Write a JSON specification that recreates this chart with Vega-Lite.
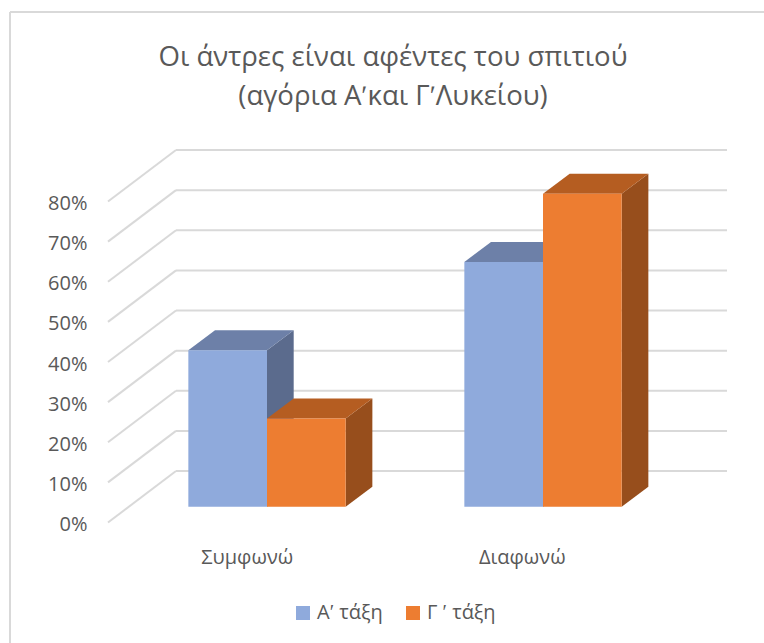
{
"$schema":"https://vega.github.io/schema/vega-lite/v6.json",
"width":754,"height":631,
"autosize":{"type":"none"},
"padding":{"left":10,"top":12,"right":0,"bottom":0},
"background":"white",
"view":{"stroke":null},
"title":{"text":["Οι άντρες είναι αφέντες του σπιτιού","(αγόρια Αʹκαι ΓʹΛυκείου)"],"font":"Open Sans","fontSize":27.6,"fontWeight":"normal","color":"#595959","lineHeight":39,"anchor":"middle","dx":6,"dy":104},
"datasets":{
"bars":[
{"category":"Συμφωνώ","series":"Αʹ τάξη","value":39},
{"category":"Συμφωνώ","series":"Γ ʹ τάξη","value":22},
{"category":"Διαφωνώ","series":"Αʹ τάξη","value":61},
{"category":"Διαφωνώ","series":"Γ ʹ τάξη","value":78}],
"ticks":[{"tick":0},{"tick":10},{"tick":20},{"tick":30},{"tick":40},{"tick":50},{"tick":60},{"tick":70},{"tick":80}]
},
"layer":[
{"data":{"name":"ticks"},
 "transform":[{"calculate":"datum.tick+12.83","as":"backY"},{"calculate":"0.6703","as":"bx0"},{"calculate":"2.6667","as":"bx1"}],
 "mark":{"type":"rule","stroke":"#d9d9d9","strokeWidth":2},
 "encoding":{
  "x":{"field":"bx0","type":"quantitative","scale":{"domain":[0.06884,2.80072],"nice":false,"zero":false},
   "axis":{"values":[0.9265,1.923],"labelExpr":"datum.value<1.5?'Συμφωνώ':'Διαφωνώ'","orient":"bottom","offset":-96,"domain":false,"ticks":false,"grid":false,"title":null,"labelFont":"Open Sans","labelFontSize":20,"labelColor":"#595959","labelPadding":0,"labelOverlap":false,"labelBound":false,"labelFlush":false}},
  "x2":{"field":"bx1"},
  "y":{"field":"backY","type":"quantitative","scale":{"domain":[-30.03,127.23],"nice":false,"zero":false},
   "axis":{"values":[0,10,20,30,40,50,60,70,80],"labelExpr":"datum.value+'%'","orient":"left","offset":-77,"domain":false,"ticks":false,"grid":false,"title":null,"labelFont":"Open Sans","labelFontSize":20,"labelColor":"#595959","labelPadding":0,"labelOffset":2,"labelOverlap":false,"labelBound":false,"labelFlush":false}}
 }},
{"data":{"values":[{"a":1}]},"mark":{"type":"rule","stroke":"#d9d9d9","strokeWidth":2},
 "encoding":{"x":{"datum":0.06884,"type":"quantitative","scale":{"domain":[0.06884,2.80072],"nice":false,"zero":false},"axis":null}}},
{"data":{"values":[{"a":1}]},"mark":{"type":"rule","stroke":"#d9d9d9","strokeWidth":2},
 "encoding":{"y":{"datum":127.23,"type":"quantitative","scale":{"domain":[-30.03,127.23],"nice":false,"zero":false},"axis":null}}},
{"data":{"name":"ticks"},
 "transform":[{"calculate":"datum.tick+12.83","as":"backY"},{"calculate":"0.4239","as":"fx"},{"calculate":"0.6703","as":"bx0"}],
 "mark":{"type":"rule","stroke":"#d9d9d9","strokeWidth":2},
 "encoding":{
  "x":{"field":"fx","type":"quantitative","scale":{"domain":[0.06884,2.80072],"nice":false,"zero":false},"axis":null},
  "x2":{"field":"bx0"},
  "y":{"field":"tick","type":"quantitative","scale":{"domain":[-30.03,127.23],"nice":false,"zero":false},"axis":null},
  "y2":{"field":"backY"}
 }},
{"data":{"name":"bars"},
 "transform":[
  {"calculate":"(datum.category==='Συμφωνώ'?1:2)+(datum.series==='Αʹ τάξη'?-0.285:0)","as":"left"},
  {"calculate":"datum.left+0.285","as":"right"},
  {"calculate":"datum.value+3.94","as":"top"},
  {"calculate":"[0,1]","as":"t"},{"flatten":["t"]},
  {"calculate":"datum.right+datum.t*0.0967","as":"px"},
  {"calculate":"datum.top+datum.t*4.98","as":"py"},
  {"calculate":"3.94+datum.t*4.98","as":"py2"},
  {"calculate":"datum.category+datum.series","as":"id"}],
 "mark":{"type":"area","interpolate":"linear","line":false},
 "encoding":{
  "x":{"field":"px","type":"quantitative","scale":{"domain":[0.06884,2.80072],"nice":false,"zero":false},"axis":null},
  "y":{"field":"py","type":"quantitative","scale":{"domain":[-30.03,127.23],"nice":false,"zero":false},"axis":null},
  "y2":{"field":"py2"},
  "detail":{"field":"id"},
  "color":{"field":"series","type":"nominal","scale":{"domain":["Αʹ τάξη","Γ ʹ τάξη"],"range":["#5b6b8d","#974e1c"]},"legend":null}
 }},
{"data":{"name":"bars"},
 "transform":[
  {"calculate":"(datum.category==='Συμφωνώ'?1:2)+(datum.series==='Αʹ τάξη'?-0.285:0)","as":"left"},
  {"calculate":"datum.left+0.285","as":"right"},
  {"calculate":"datum.value+3.94","as":"top"},
  {"calculate":"[0,1,2,3]","as":"t"},{"flatten":["t"]},
  {"calculate":"[datum.left,datum.left+0.0967,datum.right,datum.right+0.0967][datum.t]","as":"px"},
  {"calculate":"datum.t<3?datum.top:datum.top+4.98","as":"py"},
  {"calculate":"datum.t<1?datum.top:datum.top+4.98","as":"py2"},
  {"calculate":"datum.category+datum.series","as":"id"}],
 "mark":{"type":"area","interpolate":"linear","line":false},
 "encoding":{
  "x":{"field":"px","type":"quantitative","scale":{"domain":[0.06884,2.80072],"nice":false,"zero":false},"axis":null},
  "y":{"field":"py","type":"quantitative","scale":{"domain":[-30.03,127.23],"nice":false,"zero":false},"axis":null},
  "y2":{"field":"py2"},
  "detail":{"field":"id"},
  "color":{"field":"series","type":"nominal","scale":{"domain":["Αʹ τάξη","Γ ʹ τάξη"],"range":["#6d80a8","#b55d21"]},"legend":null}
 }},
{"data":{"name":"bars"},
 "transform":[
  {"calculate":"(datum.category==='Συμφωνώ'?1:2)+(datum.series==='Αʹ τάξη'?-0.285:0)","as":"left"},
  {"calculate":"datum.left+0.285","as":"right"},
  {"calculate":"datum.value+3.94","as":"top"},
  {"calculate":"3.94","as":"base"}],
 "mark":{"type":"rect"},
 "encoding":{
  "x":{"field":"left","type":"quantitative","scale":{"domain":[0.06884,2.80072],"nice":false,"zero":false},"axis":null},
  "x2":{"field":"right"},
  "y":{"field":"top","type":"quantitative","scale":{"domain":[-30.03,127.23],"nice":false,"zero":false},"axis":null},
  "y2":{"field":"base"},
  "color":{"field":"series","type":"nominal","scale":{"domain":["Αʹ τάξη","Γ ʹ τάξη"],"range":["#8faadc","#ed7d31"]},
   "legend":{"title":null,"orient":"none","legendX":283,"legendY":591,"direction":"horizontal","symbolType":"square","symbolSize":196,"symbolStrokeWidth":0,"labelFont":"Open Sans","labelFontSize":20,"labelColor":"#595959","labelOffset":4,"columnPadding":20,"padding":0}}
 }}
],
"resolve":{"scale":{"color":"independent"},"axis":{"x":"independent","y":"independent"}}
}
